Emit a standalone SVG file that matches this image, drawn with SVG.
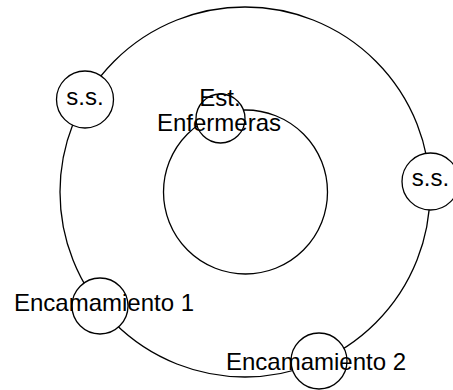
<svg xmlns="http://www.w3.org/2000/svg" width="453" height="390" viewBox="0 0 453 390">
<style>
.c{fill:none;stroke:#000;stroke-width:1.3}
.n{fill:#fff;stroke:#000;stroke-width:1.3}
.t{font-family:"Liberation Sans",Arial,sans-serif;font-size:24px;fill:#000;text-anchor:middle}
</style>
<rect width="453" height="390" fill="#fff"/>
<g id="outer"><circle class="c" cx="245" cy="192" r="185"/></g>
<g id="inner"><circle class="c" cx="245.5" cy="192" r="82"/></g>
<g id="connectors"></g>
<g id="ss-left"><circle class="n" cx="85" cy="99.5" r="28.5"/><text class="t" x="85" y="105">s.s.</text></g>
<g id="ss-right"><circle class="n" cx="430.5" cy="181.5" r="28.5"/><text class="t" x="430.5" y="186">s.s.</text></g>
<g id="est-enfermeras"><circle class="n" cx="220.5" cy="118.5" r="24.5"/><text class="t" x="220" y="106">Est.</text><text class="t" x="219" y="131">Enfermeras</text></g>
<g id="encamamiento1"><circle class="n" cx="100" cy="306" r="28"/><text class="t" x="104" y="311">Encamamiento 1</text></g>
<g id="encamamiento2"><circle class="n" cx="319" cy="361" r="28"/><text class="t" x="316" y="370">Encamamiento 2</text></g>
</svg>
